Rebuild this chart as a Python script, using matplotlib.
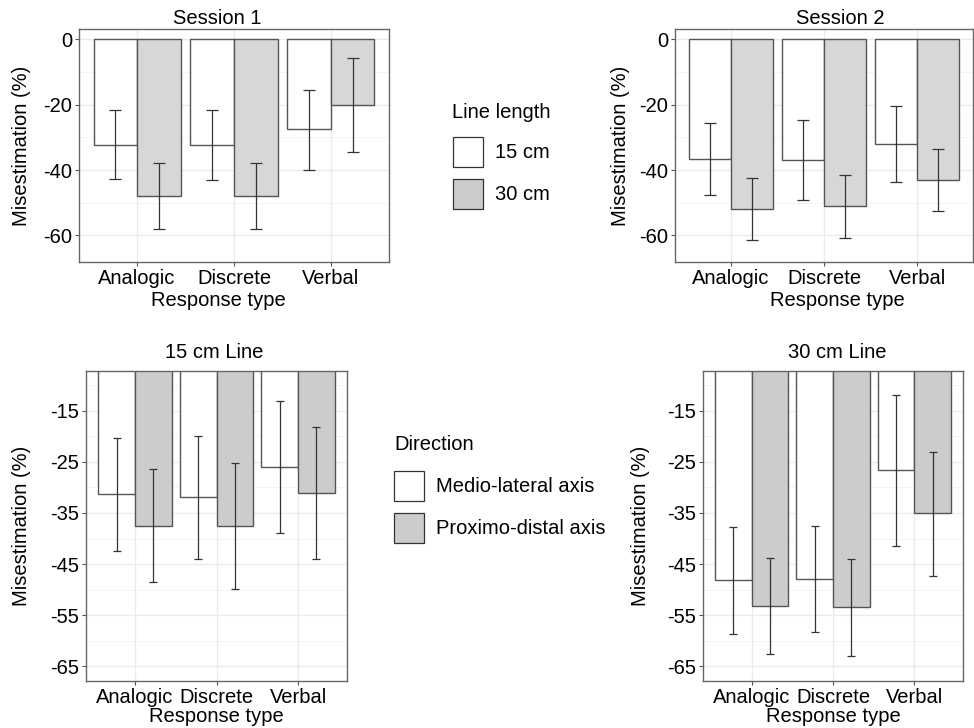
import matplotlib
matplotlib.use("Agg")
import matplotlib.pyplot as plt
from matplotlib.patches import Rectangle
import numpy as np

plt.rcParams['font.family'] = ['Liberation Sans', 'DejaVu Sans']

categories = ["Analogic", "Discrete", "Verbal"]

# Session 1 (15 cm, 30 cm): mean, lower error, upper error
s1_15_mean = [-32.2, -32.3, -27.5]
s1_15_lo = [-42.6, -43.1, -39.9]
s1_15_hi = [-21.8, -21.7, -15.4]
s1_30_mean = [-48.0, -48.0, -20.2]
s1_30_lo = [-58.1, -58.1, -34.6]
s1_30_hi = [-37.9, -38.0, -5.8]

# Session 2
s2_15_mean = [-36.6, -37.0, -32.0]
s2_15_lo = [-47.5, -49.2, -43.6]
s2_15_hi = [-25.7, -24.7, -20.4]
s2_30_mean = [-51.8, -51.1, -43.1]
s2_30_lo = [-61.3, -60.8, -52.6]
s2_30_hi = [-42.5, -41.6, -33.6]

# 15 cm line (Medio-lateral, Proximo-distal)
l15_ml_mean = [-31.3, -31.9, -25.9]
l15_ml_lo = [-42.4, -44.0, -38.9]
l15_ml_hi = [-20.4, -20.0, -13.0]
l15_pd_mean = [-37.5, -37.5, -31.1]
l15_pd_lo = [-48.6, -49.9, -44.0]
l15_pd_hi = [-26.4, -25.3, -18.1]

# 30 cm line
l30_ml_mean = [-48.2, -47.9, -26.6]
l30_ml_lo = [-58.7, -58.4, -41.5]
l30_ml_hi = [-37.7, -37.5, -11.9]
l30_pd_mean = [-53.2, -53.5, -35.1]
l30_pd_lo = [-62.7, -63.0, -47.4]
l30_pd_hi = [-43.8, -44.0, -23.0]

top_ticks = [0, -20, -40, -60]
top_minor = [-10, -30, -50]
bot_ticks = [-15, -25, -35, -45, -55, -65]
bot_minor = [-10, -20, -30, -40, -50, -60]

W, H = 974, 728
fig = plt.figure(figsize=(W / 100, H / 100), dpi=100)
FS = 14.5

def ax_at(l, t, r, b):
    return fig.add_axes([l / W, 1 - b / H, (r - l) / W, (b - t) / H])

def ftext(x, y, s, **kw):
    fig.text(x / W, 1 - y / H, s, **kw)

EDGE = '#555555'
ERR = '#333333'

def panel(ax, m1, lo1, hi1, m2, lo2, hi2, grey, ylim, ticks, minor, capsize,
          title, title_xy, ylab_x, xlab_xy):
    x = np.arange(1, len(categories) + 1)
    bw = 0.45
    for v in ticks:
        ax.axhline(v, color='#ebebeb', lw=1.0, zorder=0)
    for v in minor:
        ax.axhline(v, color='#f3f3f3', lw=0.6, zorder=0)
    for xi in x:
        ax.axvline(xi, color='#ebebeb', lw=1.0, zorder=0)
    ax.bar(x - bw / 2, m1, width=bw, color='white', edgecolor=EDGE, lw=1.0, zorder=2)
    ax.bar(x + bw / 2, m2, width=bw, color=grey, edgecolor=EDGE, lw=1.0, zorder=2)
    for xs, m, lo, hi in [(x - bw / 2, m1, lo1, hi1), (x + bw / 2, m2, lo2, hi2)]:
        m = np.array(m); lo = np.array(lo); hi = np.array(hi)
        ax.errorbar(xs, m, yerr=[m - lo, hi - m], fmt='none', ecolor=ERR,
                    elinewidth=0.9, capsize=capsize, capthick=0.9, zorder=3)
    ax.set_xlim(0.4, 3.6)
    ax.set_ylim(*ylim)
    ax.set_xticks(x)
    ax.set_xticklabels(categories, fontsize=FS)
    ax.set_yticks(ticks)
    ax.set_yticklabels([str(t) for t in ticks], fontsize=FS)
    ax.tick_params(length=3, color='#555555', width=0.8, pad=2, labelcolor='black')
    for s in ax.spines.values():
        s.set_color('#666666')
        s.set_linewidth(1.0)
    ftext(title_xy[0], title_xy[1], title, fontsize=FS, ha='center', va='center')
    yc = (ax.get_position().y0 + ax.get_position().y1) / 2
    fig.text(ylab_x / W, yc, "Misestimation (%)", fontsize=FS, rotation=90,
             ha='center', va='center')
    ftext(xlab_xy[0], xlab_xy[1], "Response type", fontsize=FS, ha='center', va='center')

ax1 = ax_at(79, 29, 389, 262)
panel(ax1, s1_15_mean, s1_15_lo, s1_15_hi, s1_30_mean, s1_30_lo, s1_30_hi,
      '#d6d7d7', (-68.1, 3.1), top_ticks, top_minor, 4.5, "Session 1", (217, 19),
      22, (218, 300))

ax2 = ax_at(675, 29, 973, 262)
panel(ax2, s2_15_mean, s2_15_lo, s2_15_hi, s2_30_mean, s2_30_lo, s2_30_hi,
      '#d6d7d7', (-68.1, 3.1), top_ticks, top_minor, 4.5, "Session 2", (840, 19),
      620, (837, 300))

ax3 = ax_at(86, 371, 347, 681)
panel(ax3, l15_ml_mean, l15_ml_lo, l15_ml_hi, l15_pd_mean, l15_pd_lo, l15_pd_hi,
      '#cccccc', (-67.9, -7.2), bot_ticks, bot_minor, 3, "15 cm Line", (214, 352),
      22, (216, 717))

ax4 = ax_at(703, 371, 963, 681)
panel(ax4, l30_ml_mean, l30_ml_lo, l30_ml_hi, l30_pd_mean, l30_pd_lo, l30_pd_hi,
      '#cccccc', (-67.9, -7.2), bot_ticks, bot_minor, 3, "30 cm Line", (837, 352),
      641, (833, 717))

# Legends (drawn manually in figure pixels)
def legend(title, tx, ty, labels, kx, ky_list, lx):
    ftext(tx, ty, title, fontsize=FS, ha='left', va='center')
    fills = ['white', '#cccccc']
    for lab, ky, fc in zip(labels, ky_list, fills):
        fig.add_artist(Rectangle((kx / W, 1 - (ky + 29.5) / H), 30 / W, 29.5 / H,
                                 transform=fig.transFigure, facecolor=fc,
                                 edgecolor='#333333', lw=0.9))
        ftext(lx, ky + 15, lab, fontsize=FS, ha='left', va='center')

legend("Line length", 452, 112, ["15 cm", "30 cm"], 453, [137, 179], 495)
legend("Direction", 394, 444, ["Medio-lateral axis", "Proximo-distal axis"], 394, [471, 513], 436)

fig.savefig("out.png", dpi=100)
